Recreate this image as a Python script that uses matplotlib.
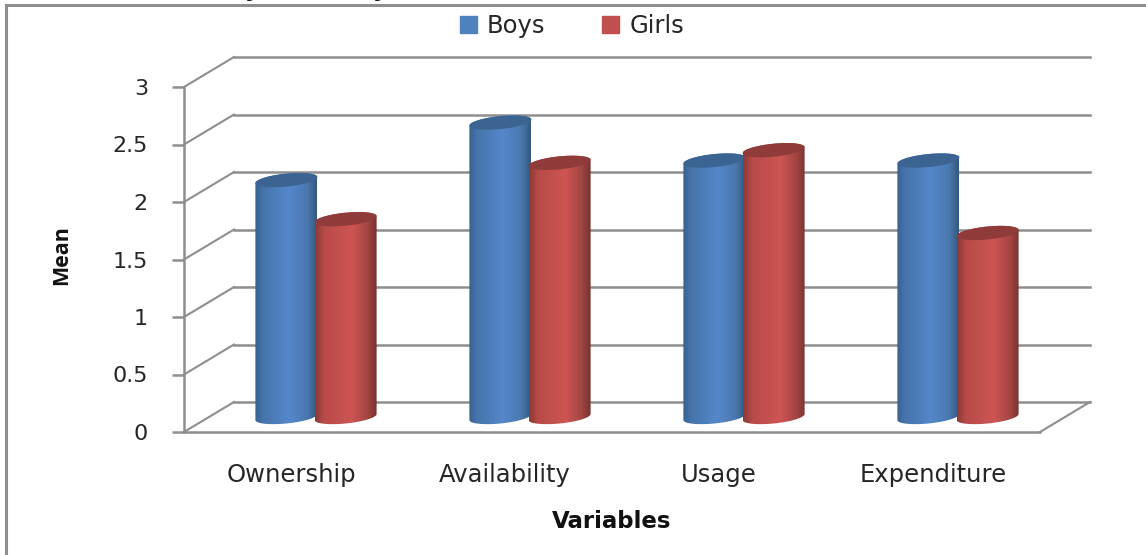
#!/usr/bin/env python3
"""Cylinder bar chart of mean scores for boys and girls, drawn with a fake 3D floor."""

import matplotlib

matplotlib.use("Agg")
import matplotlib.pyplot as plt
import numpy as np
from matplotlib.colors import LinearSegmentedColormap
from matplotlib.patches import Patch, Polygon

categories = ["Ownership", "Availability", "Usage", "Expenditure"]
boys = [2.06, 2.56, 2.23, 2.23]
girls = [1.72, 2.21, 2.32, 1.60]
y_ticks = [0, 0.5, 1, 1.5, 2, 2.5, 3]
y_tick_labels = ["0", "0.5", "1", "1.5", "2", "2.5", "3"]

FIG_W, FIG_H = 1146, 555
LEFT, RIGHT, TOP, BOTTOM = 184, 1040, 87, 432

# size of one data unit in pixels, used to express the depth offset in data units
UNIT_X = (RIGHT - LEFT) / len(categories)
UNIT_Y = (BOTTOM - TOP) / 3
DEPTH_X = 50 / UNIT_X
DEPTH_Y = 30 / UNIT_Y

BAR_HALF = 31 / UNIT_X
BAR_OFFSET = 29.6 / UNIT_X
CAP_B = 6.5 / UNIT_Y
CAP_TILT = 3 / UNIT_Y
BASE = 15 / UNIT_Y

GRID = "#8e8e8e"
TEXT = "#262626"

blue_map = LinearSegmentedColormap.from_list(
    "blue_cyl", [(0, "#37618f"), (0.12, "#4674aa"), (0.55, "#5587cb"), (0.85, "#4a78ae"), (1, "#34597f")]
)
red_map = LinearSegmentedColormap.from_list(
    "red_cyl", [(0, "#8c3a38"), (0.15, "#b94b49"), (0.6, "#cd5553"), (0.85, "#a24543"), (1, "#773230")]
)


def _ellipse(cx, cy, t):
    return cx + BAR_HALF * np.cos(t), cy + CAP_B * np.sin(t) + CAP_TILT * np.cos(t)


def _draw_cylinder(ax, cx, value, cmap, cap_color, z):
    top = value + BASE
    # outline: upper half of the top ellipse, then lower half of the base ellipse
    tx, ty = _ellipse(cx, top, np.linspace(0, np.pi, 40))
    bx, by = _ellipse(cx, BASE, np.linspace(np.pi, 2 * np.pi, 40))
    outline = np.column_stack([np.r_[tx, bx], np.r_[ty, by]])
    body = Polygon(outline, closed=True, facecolor="none", edgecolor="none", transform=ax.transData)
    ax.add_patch(body)

    shade = np.linspace(0, 1, 128).reshape(1, -1)
    im = ax.imshow(
        shade,
        cmap=cmap,
        aspect="auto",
        extent=(cx - BAR_HALF, cx + BAR_HALF, 0, top + CAP_B * 2),
        zorder=z,
    )
    im.set_clip_path(body)

    cx_pts, cy_pts = _ellipse(cx, top, np.linspace(0, 2 * np.pi, 80))
    ax.fill(cx_pts, cy_pts, color=cap_color, zorder=z + 0.1, linewidth=0)


def main():
    fig = plt.figure(figsize=(FIG_W / 100, FIG_H / 100), dpi=100)
    ax = fig.add_axes(
        [LEFT / FIG_W, 1 - BOTTOM / FIG_H, (RIGHT - LEFT) / FIG_W, (BOTTOM - TOP) / FIG_H]
    )
    n = len(categories)

    # back wall gridlines and the diagonals running to the front axis
    for tick in y_ticks:
        ax.plot([0, DEPTH_X], [tick, tick + DEPTH_Y], color=GRID, lw=1.5, clip_on=False, zorder=1)
        ax.plot([DEPTH_X, n + DEPTH_X], [tick + DEPTH_Y] * 2, color=GRID, lw=1.8, clip_on=False, zorder=1)
    ax.plot([n, n + DEPTH_X], [0, DEPTH_Y], color=GRID, lw=1.5, clip_on=False, zorder=1)

    for i in range(n):
        centre = i + 0.5 + DEPTH_X / 2
        _draw_cylinder(ax, centre - BAR_OFFSET, boys[i], blue_map, "#3b6492", 3 + i)
        _draw_cylinder(ax, centre + BAR_OFFSET, girls[i], red_map, "#8f3b39", 3.5 + i)

    ax.set_xlim(0, n)
    ax.set_ylim(0, 3)
    for side in ("top", "right"):
        ax.spines[side].set_visible(False)
    for side in ("left", "bottom"):
        ax.spines[side].set_color(GRID)
        ax.spines[side].set_linewidth(1.8)

    ax.set_yticks(y_ticks, y_tick_labels, fontsize=16, color=TEXT)
    ax.tick_params(axis="y", length=8.5, width=1.8, color=GRID, pad=17.5)
    ax.set_xticks([i + 0.5 for i in range(n)], categories, fontsize=17.5, color=TEXT)
    ax.tick_params(axis="x", length=0, pad=22)
    ax.set_ylabel("Mean", fontsize=15.5, fontweight="bold", family="Open Sans", color="#111111")
    ax.yaxis.set_label_coords((72 - LEFT) / (RIGHT - LEFT), 0.513)
    ax.set_xlabel("Variables", fontsize=16.5, fontweight="bold", color="#111111")
    ax.xaxis.set_label_coords(0.5, -(522 - BOTTOM) / (BOTTOM - TOP))
    ax.xaxis.label.set_verticalalignment("center")

    handles = [Patch(color="#4f81bd", label="Boys"), Patch(color="#c0504d", label="Girls")]
    fig.legend(
        handles=handles,
        loc="center",
        bbox_to_anchor=(572 / FIG_W, 1 - 26 / FIG_H),
        ncol=2,
        frameon=False,
        fontsize=17.5,
        labelcolor=TEXT,
        handlelength=0.7,
        handleheight=0.7,
        handletextpad=0.4,
        columnspacing=2.35,
    )

    # chart frame: only the top and left edges are visible
    fig.add_artist(plt.Line2D([6 / FIG_W, 1], [1 - 5 / FIG_H] * 2, color=GRID, lw=2.2))
    fig.add_artist(plt.Line2D([6 / FIG_W] * 2, [0, 1 - 5 / FIG_H], color=GRID, lw=2.2))

    # heading sits above the frame and is cut by the top edge of the figure
    for x_px in (252, 380):
        fig.text(x_px / FIG_W, 1 + 3 / FIG_H, "y", fontsize=16, fontweight="bold",
                 color="#111111", ha="center", va="baseline")

    fig.savefig("out.png", dpi=100)
    plt.close(fig)


if __name__ == "__main__":
    main()
